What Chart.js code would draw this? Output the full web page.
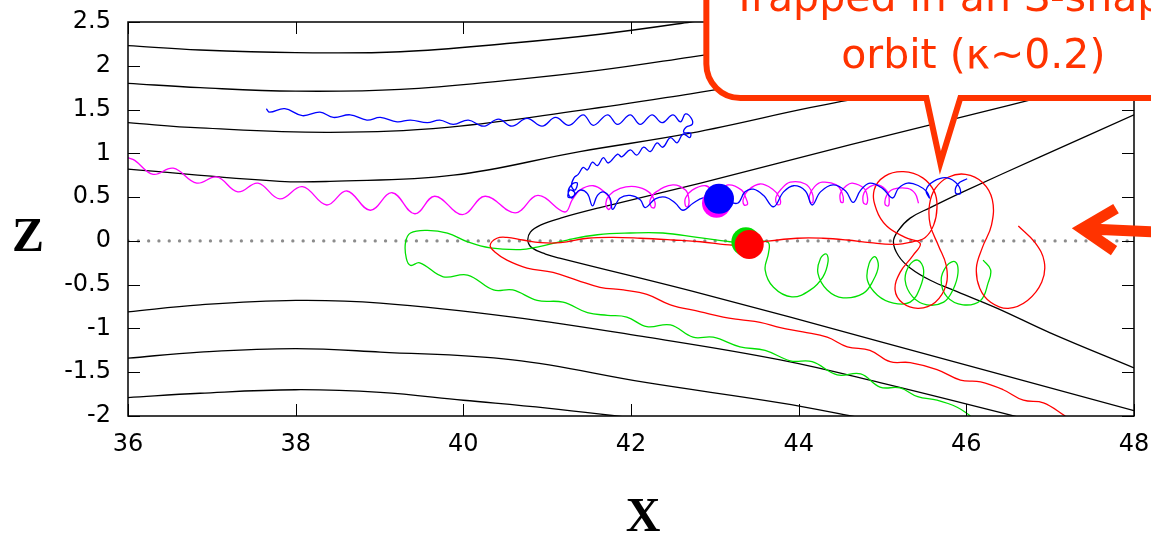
<!DOCTYPE html>
<html>
<head>
<meta charset="utf-8">
<script src="https://cdn.jsdelivr.net/npm/chart.js@4/dist/chart.umd.min.js"></script>
<style>
  html, body { margin: 0; padding: 0; background: #fff; }
</style>
</head>
<body>
<canvas id="myChart" width="1151" height="542"></canvas>
<script>
// 축 눈금
const xTicks = [36, 38, 40, 42, 44, 46, 48];
const xTickLabels = ['36', '38', '40', '42', '44', '46', '48'];
const yTicks = [-2, -1.5, -1, -0.5, 0, 0.5, 1, 1.5, 2, 2.5];
const yTickLabels = ['-2', '-1.5', '-1', '-0.5', '0', '0.5', '1', '1.5', '2', '2.5'];

// 자기력선 (검은 선)
const fieldLineA = [[36, 2.23], [36.86, 2.18], [38, 2.15], [39.25, 2.16], [40.59, 2.26], [41.63, 2.36], [42.71, 2.5], [43.3, 2.59]];
const fieldLineB = [[36, 1.80], [36.86, 1.75], [38, 1.71], [39.25, 1.73], [40.59, 1.84], [41.63, 1.95], [42.71, 2.10], [44.02, 2.29], [45.21, 2.48], [45.81, 2.58]];
const fieldLineC = [[36, 1.35], [36.86, 1.29], [38.41, 1.24], [39.84, 1.30], [41.39, 1.49], [42.71, 1.68], [44.02, 1.88], [45.81, 2.12], [48, 2.41]];
const fieldLineD = [[36, 0.82], [37.81, 0.68], [38.41, 0.68], [39.88, 0.75], [41.39, 1.02], [42.71, 1.23], [44.62, 1.61], [46.41, 1.84], [48, 2.04]];
const separatrix = [[48, 1.91], [46.52, 1.55], [44.62, 1.10], [42.83, 0.66], [41.63, 0.38], [41.16, 0.26], [40.92, 0.18], [40.80, 0.10], [40.77, 0.00],
  [40.82, -0.08], [40.98, -0.15], [41.16, -0.20], [42.83, -0.60], [44.97, -1.15], [48, -1.94]];
const sLine = [[48, 1.44], [46.88, 0.96], [45.96, 0.56], [45.57, 0.38], [45.33, 0.26], [45.19, 0.12], [45.13, -0.01], [45.19, -0.17],
  [45.33, -0.31], [45.57, -0.45], [45.89, -0.58], [46.37, -0.77], [47.00, -1.05], [48, -1.45]];
const fieldLineF = [[36, -0.81], [36.86, -0.73], [38, -0.68], [39.01, -0.71], [40.59, -0.87], [42.19, -1.10], [43.78, -1.36], [44.97, -1.62], [46.61, -2.01]];
const fieldLineG = [[36, -1.34], [36.86, -1.27], [38, -1.23], [39.01, -1.27], [40.59, -1.36], [42.19, -1.62], [43.78, -1.85], [44.74, -2.02]];
const fieldLineH = [[36, -1.79], [36.86, -1.74], [38, -1.70], [39.01, -1.73], [40, -1.82], [41, -1.91], [42.01, -2.02]];
const zeroLine = [[36, 0], [48, 0]];

// 입자 궤도
const blueOrbit = [
  [37.65, 1.51], [37.69, 1.47], [37.87, 1.51], [38.08, 1.43], [38.29, 1.47], [38.45, 1.41], [38.65, 1.44], [38.85, 1.38], [39.01, 1.41],
  [39.21, 1.36], [39.37, 1.38], [39.57, 1.35], [39.72, 1.38], [39.88, 1.33], [40.06, 1.38], [40.24, 1.31], [40.42, 1.39], [40.58, 1.31],
  [40.76, 1.40], [40.94, 1.31], [41.10, 1.41], [41.26, 1.32], [41.43, 1.44], [41.55, 1.32], [41.72, 1.44], [41.84, 1.33], [41.99, 1.44],
  [42.11, 1.33], [42.25, 1.44], [42.37, 1.35], [42.50, 1.44], [42.59, 1.36], [42.65, 1.45], [42.72, 1.40], [42.73, 1.33], [42.66, 1.30],
  [42.63, 1.24], [42.71, 1.23], [42.70, 1.18], [42.62, 1.22],
  [42.55, 1.12], [42.47, 1.18], [42.38, 1.07], [42.31, 1.12], [42.23, 1.02], [42.15, 1.07], [42.07, 0.98], [41.99, 1.04], [41.89, 0.96],
  [41.84, 0.99], [41.73, 0.89], [41.67, 0.95], [41.60, 0.86], [41.54, 0.90], [41.48, 0.81], [41.43, 0.84], [41.37, 0.76],
  [41.32, 0.72], [41.29, 0.63], [41.33, 0.58], [41.36, 0.66], [41.30, 0.65], [41.25, 0.56], [41.29, 0.49], [41.33, 0.55], [41.27, 0.58], [41.25, 0.50],
  [41.31, 0.51], [41.39, 0.58], [41.48, 0.54], [41.54, 0.40], [41.60, 0.52], [41.67, 0.56], [41.75, 0.49], [41.78, 0.36], [41.87, 0.49],
  [41.99, 0.52], [42.11, 0.47], [42.17, 0.38], [42.29, 0.48], [42.41, 0.50], [42.53, 0.43], [42.62, 0.35], [42.74, 0.43], [42.86, 0.49],
  [42.97, 0.48], [43.12, 0.47], [43.27, 0.43], [43.36, 0.56], [43.46, 0.59], [43.58, 0.52], [43.70, 0.39], [43.82, 0.56], [43.94, 0.63],
  [44.08, 0.57], [44.16, 0.41], [44.26, 0.56], [44.41, 0.64], [44.56, 0.57], [44.65, 0.44], [44.74, 0.58], [44.85, 0.66], [45.00, 0.60],
  [45.12, 0.49], [45.19, 0.60], [45.30, 0.66], [45.43, 0.63], [45.53, 0.56], [45.56, 0.49], [45.52, 0.58], [45.61, 0.68], [45.77, 0.72],
  [45.90, 0.64], [45.93, 0.54], [45.87, 0.55], [45.90, 0.65], [46.01, 0.71]
];
const magentaOrbit = [
  [36.00, 0.95], [36.08, 0.92], [36.30, 0.76], [36.54, 0.83], [36.82, 0.66], [37.06, 0.73], [37.31, 0.56], [37.55, 0.66], [37.81, 0.48],
  [38.08, 0.62], [38.37, 0.41], [38.61, 0.57], [38.89, 0.35], [39.15, 0.55], [39.42, 0.31], [39.66, 0.51], [39.99, 0.30], [40.26, 0.51],
  [40.62, 0.32], [40.89, 0.52], [41.21, 0.33],
  [41.30, 0.47], [41.39, 0.58], [41.55, 0.63], [41.68, 0.56], [41.75, 0.47], [41.76, 0.39], [41.73, 0.36], [41.70, 0.43], [41.74, 0.52],
  [41.87, 0.60], [42.05, 0.62], [42.21, 0.56], [42.28, 0.46], [42.28, 0.38], [42.24, 0.39], [42.23, 0.47], [42.30, 0.56], [42.50, 0.64],
  [42.65, 0.58], [42.69, 0.48], [42.68, 0.39], [42.65, 0.40], [42.65, 0.49], [42.73, 0.58], [42.89, 0.63], [43.02, 0.55], [43.16, 0.64],
  [43.32, 0.58], [43.37, 0.49], [43.39, 0.42], [43.35, 0.41], [43.34, 0.48], [43.40, 0.58], [43.54, 0.65], [43.69, 0.59], [43.77, 0.50],
  [43.78, 0.42], [43.74, 0.42], [43.73, 0.50], [43.79, 0.59], [43.90, 0.67], [44.08, 0.65], [44.16, 0.55], [44.17, 0.44], [44.14, 0.44],
  [44.13, 0.52], [44.19, 0.62], [44.28, 0.67], [44.45, 0.64], [44.52, 0.54], [44.53, 0.44], [44.50, 0.45], [44.50, 0.55], [44.57, 0.63],
  [44.64, 0.66], [44.78, 0.60], [44.82, 0.50], [44.81, 0.42], [44.77, 0.44], [44.78, 0.55], [44.85, 0.62], [44.95, 0.64], [45.06, 0.56],
  [45.08, 0.47], [45.07, 0.40], [45.03, 0.42], [45.05, 0.52], [45.13, 0.59], [45.30, 0.60], [45.39, 0.54], [45.43, 0.43]
];
const greenOrbit = [
  [46.05, -2.00], [45.89, -1.90], [45.65, -1.82], [45.42, -1.78], [45.21, -1.68], [44.97, -1.67], [44.74, -1.52], [44.46, -1.53],
  [44.16, -1.38], [43.90, -1.37], [43.60, -1.25], [43.30, -1.21], [42.98, -1.10], [42.74, -1.10], [42.47, -0.96], [42.19, -0.98],
  [41.95, -0.87], [41.72, -0.85], [41.48, -0.82], [41.19, -0.70], [40.88, -0.68], [40.59, -0.56], [40.36, -0.56], [40.05, -0.39],
  [39.76, -0.41], [39.48, -0.25], [39.37, -0.28], [39.32, -0.20], [39.31, -0.02], [39.37, 0.09], [39.57, 0.12], [39.81, 0.09],
  [40.05, -0.01], [40.32, -0.08], [40.68, -0.10], [40.88, -0.07], [41.24, 0.01], [41.60, 0.07], [41.99, 0.09], [42.38, 0.09],
  [42.79, 0.04], [43.18, -0.01], [43.36, -0.02], [43.52, 0.00], [43.64, -0.02], [43.64, -0.14], [43.60, -0.33], [43.70, -0.53],
  [43.92, -0.64], [44.14, -0.56], [44.29, -0.41], [44.35, -0.24], [44.33, -0.15], [44.26, -0.20], [44.23, -0.37], [44.34, -0.56],
  [44.53, -0.65], [44.77, -0.60], [44.89, -0.45], [44.95, -0.29], [44.91, -0.18], [44.84, -0.26], [44.82, -0.45], [44.94, -0.62],
  [45.13, -0.71], [45.33, -0.70], [45.45, -0.53], [45.49, -0.33], [45.42, -0.22], [45.32, -0.28], [45.27, -0.45], [45.36, -0.64],
  [45.53, -0.73], [45.73, -0.70], [45.84, -0.56], [45.90, -0.37], [45.87, -0.24], [45.77, -0.28], [45.70, -0.45], [45.77, -0.64],
  [45.96, -0.73], [46.17, -0.68], [46.26, -0.48], [46.29, -0.33], [46.20, -0.22]
];
const redOrbit = [
  [47.18, -2.00], [46.92, -1.85], [46.68, -1.82], [46.44, -1.70], [46.17, -1.61], [45.93, -1.59], [45.65, -1.47], [45.33, -1.39],
  [45.09, -1.38], [44.85, -1.25], [44.58, -1.21], [44.34, -1.10], [44.05, -1.04], [43.78, -0.99], [43.54, -0.93], [43.30, -0.90],
  [43.10, -0.87], [42.83, -0.81], [42.47, -0.73], [42.19, -0.61], [41.91, -0.56], [41.63, -0.53], [41.36, -0.45], [41.07, -0.36],
  [40.76, -0.31], [40.52, -0.22], [40.38, -0.13], [40.32, -0.05], [40.40, 0.03], [40.52, 0.04], [40.71, 0.01], [40.92, -0.02],
  [41.16, -0.02], [41.48, 0.03], [41.79, 0.04], [42.11, 0.03], [42.50, 0.01], [42.83, -0.01], [43.22, -0.05], [43.41, -0.04],
  [43.58, -0.01], [43.98, 0.03], [44.29, 0.03], [44.58, 0.01], [44.85, -0.02], [45.13, -0.04], [45.36, -0.01], [45.51, 0.04],
  [45.61, 0.18], [45.65, 0.38], [45.62, 0.56], [45.48, 0.72], [45.25, 0.79], [45.03, 0.74], [44.90, 0.58], [44.93, 0.35],
  [45.05, 0.17], [45.27, 0.04], [45.45, -0.03], [45.36, -0.17], [45.21, -0.36], [45.15, -0.56], [45.24, -0.71], [45.43, -0.77],
  [45.63, -0.70], [45.76, -0.50], [45.76, -0.28], [45.67, -0.06], [45.57, 0.18], [45.56, 0.41], [45.63, 0.60], [45.79, 0.73],
  [45.99, 0.76], [46.19, 0.67], [46.31, 0.47], [46.30, 0.18], [46.19, -0.08], [46.12, -0.31], [46.16, -0.54], [46.29, -0.70],
  [46.50, -0.77], [46.73, -0.68], [46.90, -0.47], [46.93, -0.24], [46.82, -0.02], [46.62, 0.17]
];

// 현재 위치 (큰 점)
const blueNow = [[43.05, 0.48]];
const magentaNow = [[43.02, 0.43]];
const greenNow = [[43.37, -0.01]];
const redNow = [[43.41, -0.04]];

// 말풍선 / 화살표 위치 (데이터 좌표)
const calloutTip = [45.69, 0.89];
const arrowTip = [47.38, 0.14];
const calloutLines = ['Trapped in an S-shaped', 'orbit (κ~0.2)'];

const toXY = arr => arr.map(([x, y]) => ({ x, y }));

const lineSet = (data, color, width) => ({
  data: toXY(data),
  showLine: true,
  borderColor: color,
  borderWidth: width,
  pointRadius: 0,
  pointHoverRadius: 0,
  tension: 0.4,
  fill: false,
  clip: 0
});

const dotSet = (data, color, r) => ({
  data: toXY(data),
  showLine: false,
  backgroundColor: color,
  borderWidth: 0,
  pointRadius: r,
  pointHoverRadius: r,
  clip: 0
});

const zeroSet = {
  data: toXY(zeroLine),
  showLine: true,
  borderColor: '#8c8c8c',
  borderWidth: 3.2,
  borderDash: [0.1, 10.2],
  borderCapStyle: 'round',
  pointRadius: 0,
  clip: 0
};

// 축 눈금선, 테두리, 말풍선, 화살표, 축 제목
const decorations = {
  id: 'decorations',
  afterDatasetsDraw(chart) {
    const { ctx, chartArea: a, scales: { x, y } } = chart;
    ctx.save();
    ctx.strokeStyle = '#000';
    ctx.lineWidth = 1;
    ctx.beginPath();
    xTicks.forEach(v => {
      const p = Math.round(x.getPixelForValue(v)) + 0.5;
      ctx.moveTo(p, a.bottom); ctx.lineTo(p, a.bottom - 12);
      ctx.moveTo(p, a.top); ctx.lineTo(p, a.top + 12);
    });
    yTicks.forEach(v => {
      const p = Math.round(y.getPixelForValue(v)) + 0.5;
      ctx.moveTo(a.left, p); ctx.lineTo(a.left + 12, p);
      ctx.moveTo(a.right, p); ctx.lineTo(a.right - 12, p);
    });
    ctx.stroke();
    ctx.lineWidth = 1.5;
    ctx.strokeRect(a.left, a.top, a.right - a.left, a.bottom - a.top);

    // 말풍선
    const tx = x.getPixelForValue(calloutTip[0]);
    const ty = y.getPixelForValue(calloutTip[1]);
    const bottom = ty - 65, left = tx - 234, r = 34;
    ctx.beginPath();
    ctx.moveTo(tx - 14, bottom);
    ctx.lineTo(tx, ty);
    ctx.lineTo(tx + 20, bottom);
    ctx.lineTo(1200, bottom);
    ctx.lineTo(1200, -120);
    ctx.lineTo(left, -120);
    ctx.lineTo(left, bottom - r);
    ctx.arcTo(left, bottom, left + r, bottom, r);
    ctx.closePath();
    ctx.fillStyle = '#fff';
    ctx.fill();
    ctx.strokeStyle = '#ff3300';
    ctx.lineWidth = 6;
    ctx.lineJoin = 'miter';
    ctx.stroke();
    ctx.fillStyle = '#ff3300';
    ctx.font = '41px "DejaVu Sans"';
    ctx.textAlign = 'center';
    ctx.textBaseline = 'alphabetic';
    ctx.fillText(calloutLines[0], tx + 33, ty - 152);
    ctx.fillText(calloutLines[1], tx + 33, ty - 95);

    // 화살표
    const ax = x.getPixelForValue(arrowTip[0]);
    const ay = y.getPixelForValue(arrowTip[1]);
    ctx.strokeStyle = '#ff3300';
    ctx.lineWidth = 11;
    ctx.lineCap = 'butt';
    ctx.beginPath();
    ctx.moveTo(ax + 34, ay - 20);
    ctx.lineTo(ax, ay);
    ctx.lineTo(ax + 32, ay + 22);
    ctx.moveTo(ax + 2, ay);
    ctx.lineTo(ax + 90, ay + 4);
    ctx.stroke();

    // 축 제목
    ctx.fillStyle = '#000';
    ctx.font = 'bold 48px "Liberation Serif"';
    ctx.textAlign = 'center';
    ctx.textBaseline = 'middle';
    ctx.fillText('Z', 28, y.getPixelForValue(0) - 2);
    ctx.fillText('X', 643, 519);
    ctx.restore();
  }
};

const chartArea = document.getElementById('myChart').getContext('2d');
const myChart = new Chart(chartArea, {
  type: 'scatter',
  data: {
    // 앞쪽 데이터셋이 위에 그려진다
    datasets: [
      dotSet(redNow, '#ff0000', 14.5),
      dotSet(greenNow, '#00dd00', 14.5),
      dotSet(blueNow, '#0000ff', 15),
      dotSet(magentaNow, '#ff00ff', 14.5),
      lineSet(blueOrbit, '#0000ff', 1.3),
      lineSet(magentaOrbit, '#ff00ff', 1.3),
      lineSet(redOrbit, '#ff0000', 1.3),
      lineSet(greenOrbit, '#00e000', 1.3),
      zeroSet,
      lineSet(fieldLineA, '#000', 1.3),
      lineSet(fieldLineB, '#000', 1.3),
      lineSet(fieldLineC, '#000', 1.3),
      lineSet(fieldLineD, '#000', 1.3),
      lineSet(separatrix, '#000', 1.3),
      lineSet(sLine, '#000', 1.3),
      lineSet(fieldLineF, '#000', 1.3),
      lineSet(fieldLineG, '#000', 1.3),
      lineSet(fieldLineH, '#000', 1.3)
    ]
  },
  options: {
    responsive: false,
    animation: false,
    events: [],
    layout: { padding: { left: 0, right: 17, top: 22, bottom: 0 } },
    plugins: { legend: { display: false }, tooltip: { enabled: false } },
    scales: {
      x: {
        type: 'linear',
        position: 'bottom',
        min: 36,
        max: 48,
        afterBuildTicks: s => { s.ticks = xTicks.map(v => ({ value: v })); },
        // 라벨 여백 때문에 차트 영역이 줄지 않도록 고정
        afterFit: s => { s.height = 126; s.paddingLeft = 0; s.paddingRight = 0; },
        grid: { display: false, drawTicks: false },
        border: { display: false },
        ticks: {
          callback: (v, i) => xTickLabels[i],
          font: { family: 'DejaVu Sans', size: 24 },
          color: '#000',
          padding: 14,
          maxRotation: 0
        }
      },
      y: {
        type: 'linear',
        position: 'left',
        min: -2,
        max: 2.5,
        afterBuildTicks: s => { s.ticks = yTicks.map(v => ({ value: v })); },
        afterFit: s => { s.width = 128; s.paddingTop = 0; s.paddingBottom = 0; },
        grid: { display: false, drawTicks: false },
        border: { display: false },
        ticks: {
          callback: (v, i) => yTickLabels[i],
          font: { family: 'DejaVu Sans', size: 24 },
          color: '#000',
          padding: 17
        }
      }
    }
  },
  plugins: [decorations]
});
</script>
</body>
</html>
